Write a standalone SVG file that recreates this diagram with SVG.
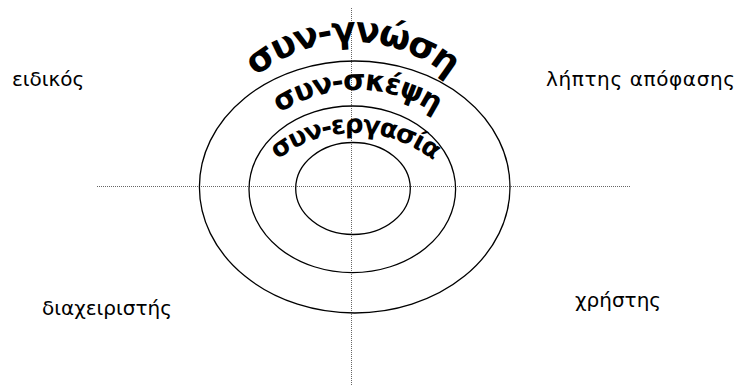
<svg xmlns="http://www.w3.org/2000/svg" width="737" height="385" viewBox="0 0 737 385">
<style>
.axis{stroke:#666;stroke-width:1;stroke-dasharray:1 1;fill:none}
.ring{stroke:#000;stroke-width:1.3;fill:none}
.lbl{font-family:"DejaVu Sans",Verdana,sans-serif;font-size:20px;fill:#000}
.arc{font-family:"DejaVu Sans",Verdana,sans-serif;font-weight:bold;fill:#000}
</style>
<defs>
<path id="p1" d="M202,192 A150,150 0 0 1 502,192"/>
<path id="p2" d="M217,230 A140,140 0 0 1 497,230"/>
<path id="p3" d="M230,258 A125,125 0 0 1 480,258"/>
</defs>
<g id="axes">
<line class="axis" x1="97" y1="186.5" x2="630" y2="186.5"/>
<line class="axis" x1="351.5" y1="8" x2="351.5" y2="385"/>
</g>
<g id="outer"><ellipse class="ring" cx="354.7" cy="187" rx="155.3" ry="126"/></g>
<g id="middle"><ellipse class="ring" cx="352.3" cy="189.3" rx="103.3" ry="83.3"/></g>
<g id="inner"><ellipse class="ring" cx="353" cy="188.5" rx="57.3" ry="46"/></g>
<g id="t1"><text class="arc" font-size="36" letter-spacing="-2"><textPath href="#p1" startOffset="50%" text-anchor="middle">συν-γνώση</textPath></text></g>
<g id="t2"><text class="arc" font-size="29" letter-spacing="-1.5"><textPath href="#p2" startOffset="50%" text-anchor="middle">συν-σκέψη</textPath></text></g>
<g id="t3"><text class="arc" font-size="26" letter-spacing="-1.5"><textPath href="#p3" startOffset="50%" text-anchor="middle">συν-εργασία</textPath></text></g>
<g id="l1"><text class="lbl" x="12" y="86">ειδικός</text></g>
<g id="l2"><text class="lbl" x="546" y="86" textLength="189">λήπτης απόφασης</text></g>
<g id="l3"><text class="lbl" x="42" y="315">διαχειριστής</text></g>
<g id="l4"><text class="lbl" x="575" y="307">χρήστης</text></g>
</svg>
